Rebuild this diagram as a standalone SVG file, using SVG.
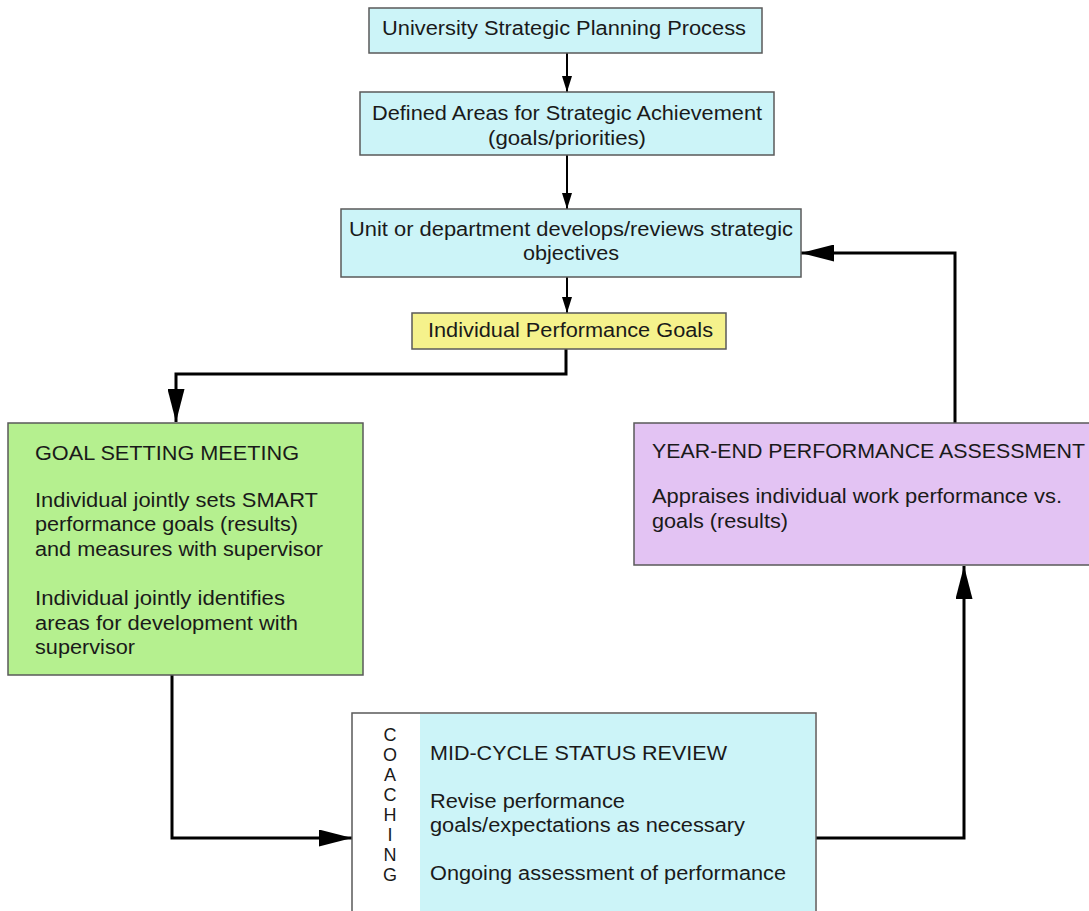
<svg xmlns="http://www.w3.org/2000/svg" width="1089" height="911" viewBox="0 0 1089 911">
<style>
.box{stroke:#5a5a5a;stroke-width:1.5}
.cyan{fill:#ccf4f8}
.yellow{fill:#f5f28c}
.green{fill:#b5f08f}
.purple{fill:#e3c3f3}
text{font-family:"Liberation Sans",Arial,sans-serif;font-size:19.5px;fill:#1a1a1a}
.c{text-anchor:middle}
.v{font-size:18px}
.con{fill:none;stroke:#000;stroke-width:3}
.thin{stroke-width:2}
</style>
<defs>
<marker id="ah" markerWidth="16" markerHeight="10" refX="16" refY="5" orient="auto" markerUnits="userSpaceOnUse" viewBox="0 0 16 10">
<path d="M0,0 L16,5 L0,10 z" fill="#000"/>
</marker>
<marker id="ahL" markerWidth="33" markerHeight="17" refX="33" refY="8.5" orient="auto" markerUnits="userSpaceOnUse" viewBox="0 0 33 17">
<path d="M0,0 L33,8.5 L0,17 z" fill="#000"/>
</marker>
</defs>
<rect width="1089" height="911" fill="#fff"/>
<g id="connectors">
<line class="con thin" x1="567" y1="53" x2="567" y2="92" marker-end="url(#ah)"/>
<line class="con thin" x1="567" y1="155" x2="567" y2="209" marker-end="url(#ah)"/>
<line class="con thin" x1="567" y1="277" x2="567" y2="313" marker-end="url(#ah)"/>
<polyline class="con" points="566,349 566,374 176,374 176,422" marker-end="url(#ahL)"/>
<polyline class="con" points="172,675 172,838 352,838" marker-end="url(#ahL)"/>
<polyline class="con" points="816,838 964,838 964,566" marker-end="url(#ahL)"/>
<polyline class="con" points="955,423 955,253 801,253" marker-end="url(#ahL)"/>
</g>
<g id="n1">
<rect class="box cyan" x="369" y="8" width="393" height="45"/>
<text x="382" y="35" textLength="364" lengthAdjust="spacingAndGlyphs">University Strategic Planning Process</text>
</g>
<g id="n2">
<rect class="box cyan" x="360" y="92" width="414" height="63"/>
<text x="372" y="120" textLength="390" lengthAdjust="spacingAndGlyphs">Defined Areas for Strategic Achievement</text>
<text x="488" y="145" textLength="158" lengthAdjust="spacingAndGlyphs">(goals/priorities)</text>
</g>
<g id="n3">
<rect class="box cyan" x="341" y="209" width="460" height="68"/>
<text x="349" y="236" textLength="444" lengthAdjust="spacingAndGlyphs">Unit or department develops/reviews strategic</text>
<text x="523" y="260" textLength="96" lengthAdjust="spacingAndGlyphs">objectives</text>
</g>
<g id="n4">
<rect class="box yellow" x="412" y="313" width="314" height="36"/>
<text x="428" y="337" textLength="285" lengthAdjust="spacingAndGlyphs">Individual Performance Goals</text>
</g>
<g id="n5">
<rect class="box green" x="8" y="423" width="355" height="252"/>
<text x="35" y="460" textLength="264" lengthAdjust="spacingAndGlyphs">GOAL SETTING MEETING</text>
<text x="35" y="507" textLength="283" lengthAdjust="spacingAndGlyphs">Individual jointly sets SMART</text>
<text x="35" y="531" textLength="263" lengthAdjust="spacingAndGlyphs">performance goals (results)</text>
<text x="35" y="556" textLength="288" lengthAdjust="spacingAndGlyphs">and measures with supervisor</text>
<text x="35" y="605" textLength="250" lengthAdjust="spacingAndGlyphs">Individual jointly identifies</text>
<text x="35" y="630" textLength="263" lengthAdjust="spacingAndGlyphs">areas for development with</text>
<text x="35" y="654" textLength="100" lengthAdjust="spacingAndGlyphs">supervisor</text>
</g>
<g id="n6">
<rect class="box purple" x="634" y="423" width="470" height="142"/>
<text x="652" y="458" textLength="433" lengthAdjust="spacingAndGlyphs">YEAR-END PERFORMANCE ASSESSMENT</text>
<text x="652" y="503" textLength="410" lengthAdjust="spacingAndGlyphs">Appraises individual work performance vs.</text>
<text x="652" y="528" textLength="136" lengthAdjust="spacingAndGlyphs">goals (results)</text>
</g>
<g id="n7">
<rect class="box" x="352" y="713" width="464" height="210" fill="#fff"/>
<rect class="cyan" x="420" y="714" width="395" height="200"/>
<text class="c v" x="390" y="741">C</text>
<text class="c v" x="390" y="761">O</text>
<text class="c v" x="390" y="781">A</text>
<text class="c v" x="390" y="801">C</text>
<text class="c v" x="390" y="821">H</text>
<text class="c v" x="390" y="841">I</text>
<text class="c v" x="390" y="861">N</text>
<text class="c v" x="390" y="881">G</text>
<text x="430" y="760" textLength="297" lengthAdjust="spacingAndGlyphs">MID-CYCLE STATUS REVIEW</text>
<text x="430" y="808" textLength="195" lengthAdjust="spacingAndGlyphs">Revise performance</text>
<text x="430" y="832" textLength="315" lengthAdjust="spacingAndGlyphs">goals/expectations as necessary</text>
<text x="430" y="880" textLength="356" lengthAdjust="spacingAndGlyphs">Ongoing assessment of performance</text>
</g>
</svg>
